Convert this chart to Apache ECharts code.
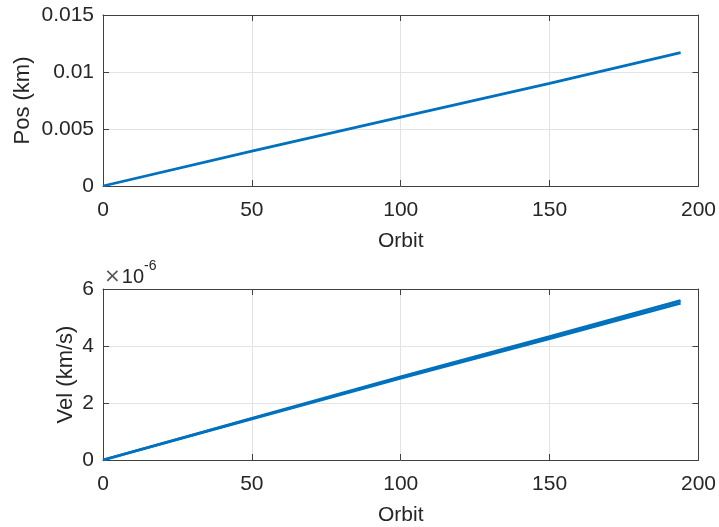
<!DOCTYPE html>
<html>
<head>
<meta charset="utf-8">
<script src="https://cdn.jsdelivr.net/npm/echarts@6/dist/echarts.min.js"></script>
<style>
html,body{margin:0;padding:0;background:#fff;}
#c{width:719px;height:527px;}
</style>
</head>
<body>
<div id="c"></div>
<script>
// Data
var orbit = [0, 50, 100, 150, 194];
var posKm = [0, 0.00305, 0.00605, 0.0090, 0.01169];
var velLow = [0, 1.44e-6, 2.87e-6, 4.26e-6, 5.50e-6];
var velHigh = [0, 1.46e-6, 2.92e-6, 4.33e-6, 5.59e-6];
var xTicks = [0, 50, 100, 150, 200];
var posTicks = ['0', '0.005', '0.01', '0.015'];
var velTicks = ['0', '2', '4', '6'];

var FONT = 'Liberation Sans, Arial, Helvetica, sans-serif';
var AX = '#404040';
var TXT = '#262626';
var BLUE = '#0072BD';

function pairs(xs, ys){ return xs.map(function(x,i){ return [x, ys[i]]; }); }

function mainX(gi){
  return {
    type:'value', gridIndex:gi, min:0, max:200, interval:50, position:'bottom',
    name:'Orbit', nameLocation:'middle', nameGap:45,
    nameTextStyle:{fontFamily:FONT, fontSize:21, color:TXT},
    axisLine:{show:true, onZero:false, lineStyle:{color:AX, width:1}},
    axisTick:{show:true, inside:true, length:6, lineStyle:{color:AX}},
    axisLabel:{fontFamily:FONT, fontSize:21, color:TXT, margin:14,
      formatter:function(v){ return String(v); }},
    splitLine:{show:true, lineStyle:{color:'#e3e3e3', width:1}}
  };
}
function boxX(gi){
  return {
    type:'value', gridIndex:gi, min:0, max:200, interval:50, position:'top',
    axisLine:{show:true, onZero:false, lineStyle:{color:AX, width:1}},
    axisTick:{show:true, inside:true, length:6, lineStyle:{color:AX}},
    axisLabel:{show:false}, splitLine:{show:false}
  };
}
function mainY(gi, max, interval, name, gap, labels){
  return {
    type:'value', gridIndex:gi, min:0, max:max, interval:interval, position:'left',
    name:name, nameLocation:'middle', nameGap:gap, nameRotate:90, nameMoveOverlap:false,
    nameTextStyle:{fontFamily:FONT, fontSize:22, color:TXT},
    axisLine:{show:true, onZero:false, lineStyle:{color:AX, width:1}},
    axisTick:{show:true, inside:true, length:6, lineStyle:{color:AX}},
    axisLabel:{fontFamily:FONT, fontSize:21, color:TXT, margin:9,
      formatter:function(v){ var i = Math.round(v/interval); return labels[i]; }},
    splitLine:{show:true, lineStyle:{color:'#e3e3e3', width:1}}
  };
}
function boxY(gi, max, interval){
  return {
    type:'value', gridIndex:gi, min:0, max:max, interval:interval, position:'right',
    axisLine:{show:true, onZero:false, lineStyle:{color:AX, width:1}},
    axisTick:{show:true, inside:true, length:6, lineStyle:{color:AX}},
    axisLabel:{show:false}, splitLine:{show:false}
  };
}

var chart = echarts.init(document.getElementById('c'), null, {renderer:'canvas'});
chart.setOption({
  animation:false,
  backgroundColor:'#ffffff',
  grid:[
    {left:103, top:15, width:597, height:171},
    {left:103, top:289, width:597, height:171}
  ],
  xAxis:[mainX(0), boxX(0), mainX(1), boxX(1)],
  yAxis:[
    mainY(0, 0.015, 0.005, 'Pos (km)', 69, posTicks), boxY(0, 0.015, 0.005),
    mainY(1, 6e-6, 2e-6, 'Vel (km/s)', 26, velTicks), boxY(1, 6e-6, 2e-6)
  ],
  graphic:[{
    type:'text', left:104, top:259,
    style:{
      text:'{x|×}{a|10}{b|-6}',
      rich:{
        x:{fontFamily:'DejaVu Sans, sans-serif', fontSize:20, fill:'#555', padding:[8,1,0,0]},
        a:{fontFamily:FONT, fontSize:20, fill:TXT, padding:[8,0,0,0]},
        b:{fontFamily:FONT, fontSize:14, fill:TXT, verticalAlign:'top'}
      }
    }
  }],
  series:[
    {type:'line', xAxisIndex:0, yAxisIndex:0, data:pairs(orbit, posKm), showSymbol:false,
     lineStyle:{color:BLUE, width:2.8}, silent:true},
    {type:'line', xAxisIndex:2, yAxisIndex:2, data:pairs(orbit, velLow), showSymbol:false,
     lineStyle:{color:BLUE, width:2.8}, silent:true},
    {type:'line', xAxisIndex:2, yAxisIndex:2, data:pairs(orbit, velHigh), showSymbol:false,
     lineStyle:{color:BLUE, width:2.8}, silent:true}
  ]
});
</script>
</body>
</html>
